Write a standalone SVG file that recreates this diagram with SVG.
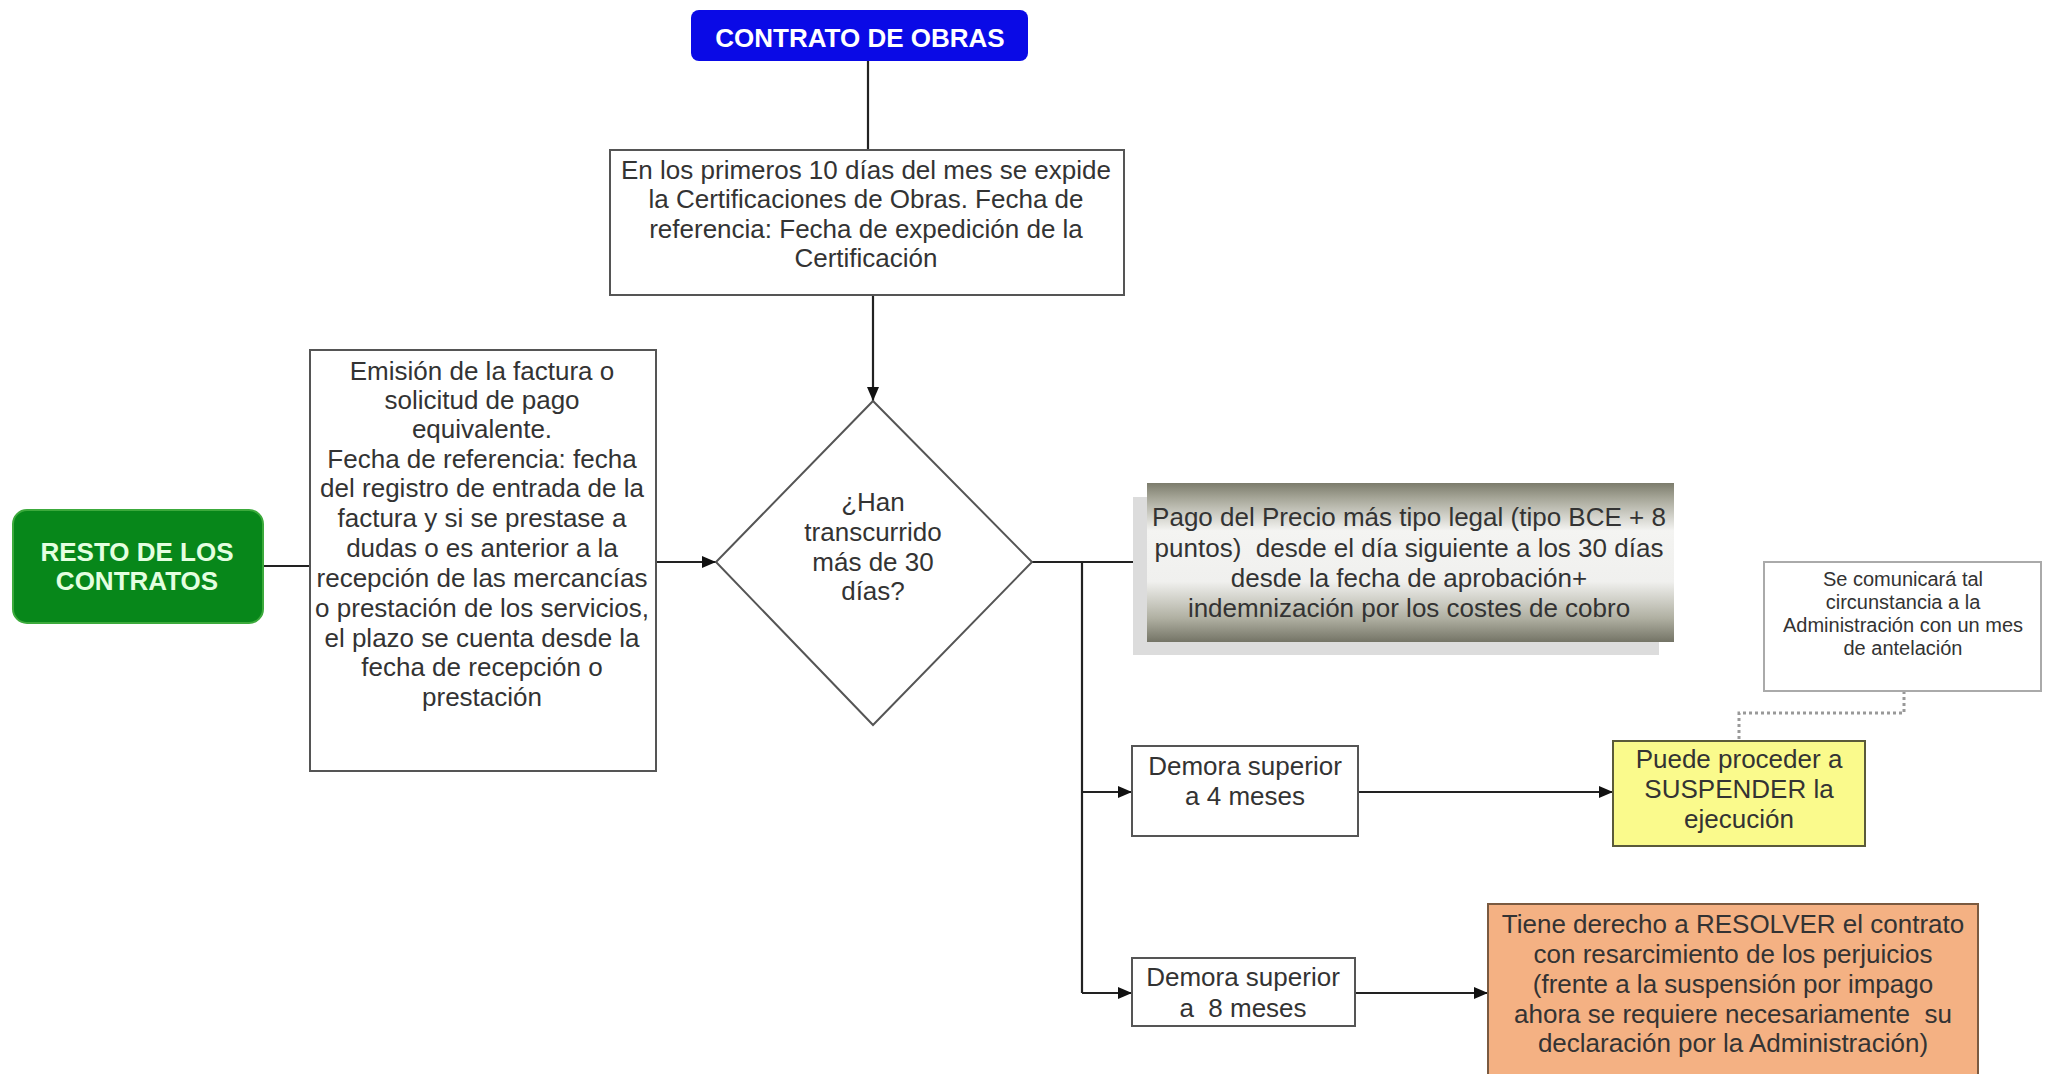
<svg xmlns="http://www.w3.org/2000/svg" width="2049" height="1074" viewBox="0 0 2049 1074">
<style>
text{font-family:"Liberation Sans",Arial,sans-serif;font-size:26px;fill:#333;text-anchor:middle;white-space:pre}
.box{fill:#fff;stroke:#555;stroke-width:2}
.ln{fill:none;stroke:#222;stroke-width:2.2}
.dot{fill:none;stroke:#999;stroke-width:3;stroke-dasharray:3 3}
.hd{fill:#fff;font-weight:bold}
.sm{font-size:20px}
</style>
<defs>
<marker id="ah" viewBox="0 0 14 12" refX="14" refY="6" markerWidth="14" markerHeight="12" orient="auto" markerUnits="userSpaceOnUse">
<path d="M0,0 L14,6 L0,12 z" fill="#111"/>
</marker>
<linearGradient id="gg" x1="0" y1="0" x2="0" y2="1">
<stop offset="0" stop-color="#7c7c6c"/>
<stop offset="0.1" stop-color="#a8a89a"/>
<stop offset="0.3" stop-color="#f4f4f2"/>
<stop offset="0.62" stop-color="#f0f0ee"/>
<stop offset="0.85" stop-color="#b0b0a2"/>
<stop offset="1" stop-color="#747466"/>
</linearGradient>
</defs>
<rect width="2049" height="1074" fill="#fff"/>

<g id="connectors">
<path class="ln" d="M868,61 V150"/>
<path class="ln" d="M873,295 V401" marker-end="url(#ah)"/>
<path class="ln" d="M263,566 H310"/>
<path class="ln" d="M656,562 H716" marker-end="url(#ah)"/>
<path class="ln" d="M1032,562 H1147" marker-end="url(#ah)"/>
<path class="ln" d="M1082,562 V993"/>
<path class="ln" d="M1082,792 H1132" marker-end="url(#ah)"/>
<path class="ln" d="M1082,993 H1132" marker-end="url(#ah)"/>
<path class="ln" d="M1358,792 H1613" marker-end="url(#ah)"/>
<path class="ln" d="M1355,993 H1488" marker-end="url(#ah)"/>
<path class="dot" d="M1904,691 V713 H1739 V741"/>
</g>

<g id="contrato-obras">
<rect x="691" y="10" width="337" height="51" rx="8" fill="#0a0ae6"/>
<text class="hd" x="860" y="47">CONTRATO DE OBRAS</text>
</g>

<g id="certificaciones">
<rect class="box" x="610" y="150" width="514" height="145"/>
<text x="866" y="179">En los primeros 10 días del mes se expide</text>
<text x="866" y="208">la Certificaciones de Obras. Fecha de</text>
<text x="866" y="238">referencia: Fecha de expedición de la</text>
<text x="866" y="267">Certificación</text>
</g>

<g id="resto-contratos">
<rect x="13" y="510" width="250" height="113" rx="14" fill="#07871a" stroke="#3caa3c" stroke-width="2"/>
<text class="hd" x="137" y="561" style="fill:#e4ffe0">RESTO DE LOS</text>
<text class="hd" x="137" y="590" style="fill:#e4ffe0">CONTRATOS</text>
</g>

<g id="emision-factura">
<rect class="box" x="310" y="350" width="346" height="421"/>
<text x="482" y="380">Emisión de la factura o</text>
<text x="482" y="409">solicitud de pago</text>
<text x="482" y="438">equivalente.</text>
<text x="482" y="468">Fecha de referencia: fecha</text>
<text x="482" y="497">del registro de entrada de la</text>
<text x="482" y="527">factura y si se prestase a</text>
<text x="482" y="557">dudas o es anterior a la</text>
<text x="482" y="587">recepción de las mercancías</text>
<text x="482" y="617">o prestación de los servicios,</text>
<text x="482" y="647">el plazo se cuenta desde la</text>
<text x="482" y="676">fecha de recepción o</text>
<text x="482" y="706">prestación</text>
</g>

<g id="decision">
<polygon points="873,401 1032,562 873,725 716,562" fill="#fff" stroke="#555" stroke-width="2"/>
<text x="873" y="511">¿Han</text>
<text x="873" y="541">transcurrido</text>
<text x="873" y="571">más de 30</text>
<text x="873" y="600">días?</text>
</g>

<g id="pago-precio">
<rect x="1133" y="497" width="526" height="158" fill="#dcdcdc"/>
<rect x="1147" y="483" width="527" height="159" fill="url(#gg)"/>
<text x="1409" y="526">Pago del Precio más tipo legal (tipo BCE + 8</text>
<text x="1409" y="557">puntos)  desde el día siguiente a los 30 días</text>
<text x="1409" y="587">desde la fecha de aprobación+</text>
<text x="1409" y="617">indemnización por los costes de cobro</text>
</g>

<g id="comunicara">
<rect x="1764" y="562" width="277" height="129" fill="#fff" stroke="#aaa" stroke-width="2"/>
<text class="sm" x="1903" y="586">Se comunicará tal</text>
<text class="sm" x="1903" y="609">circunstancia a la</text>
<text class="sm" x="1903" y="632">Administración con un mes</text>
<text class="sm" x="1903" y="655">de antelación</text>
</g>

<g id="demora-4">
<rect class="box" x="1132" y="746" width="226" height="90"/>
<text x="1245" y="775">Demora superior</text>
<text x="1245" y="805">a 4 meses</text>
</g>

<g id="suspender">
<rect x="1613" y="741" width="252" height="105" fill="#fafa8c" stroke="#5a5a3a" stroke-width="2"/>
<text x="1739" y="768">Puede proceder a</text>
<text x="1739" y="798">SUSPENDER la</text>
<text x="1739" y="828">ejecución</text>
</g>

<g id="demora-8">
<rect class="box" x="1132" y="958" width="223" height="68"/>
<text x="1243" y="986">Demora superior</text>
<text x="1243" y="1017">a  8 meses</text>
</g>

<g id="resolver">
<rect x="1488" y="904" width="490" height="174" fill="#f4b183" stroke="#7a5a40" stroke-width="2"/>
<text x="1733" y="933">Tiene derecho a RESOLVER el contrato</text>
<text x="1733" y="963">con resarcimiento de los perjuicios</text>
<text x="1733" y="993">(frente a la suspensión por impago</text>
<text x="1733" y="1023">ahora se requiere necesariamente  su</text>
<text x="1733" y="1052">declaración por la Administración)</text>
</g>
</svg>
